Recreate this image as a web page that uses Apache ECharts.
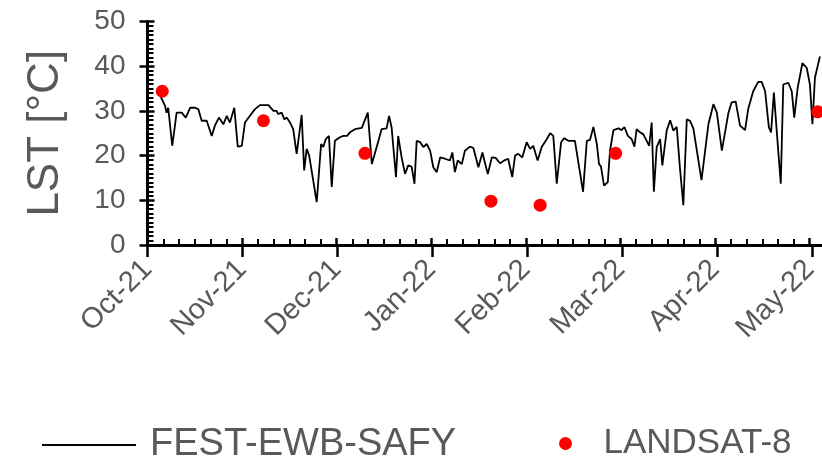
<!DOCTYPE html>
<html>
<head>
<meta charset="utf-8">
<script src="https://cdn.jsdelivr.net/npm/echarts@6/dist/echarts.min.js"></script>
<style>
  html, body { margin: 0; padding: 0; background: #fff; }
  #chart { width: 822px; height: 463px; }
</style>
</head>
<body>
<div id="chart"></div>
<script>
// Month tick labels, evenly spaced along the time axis
const monthLabels = ['Oct-21', 'Nov-21', 'Dec-21', 'Jan-22', 'Feb-22', 'Mar-22', 'Apr-22', 'May-22'];

// FEST-EWB-SAFY modelled LST: day offset from 1 Oct 2021, and temperature in °C
const modelDays = [
  3.4, 5.6, 6.1, 6.6, 7.9, 9.3, 10.9, 12.2, 13.6, 15.2, 16.2, 17.3, 18.9, 20.5, 21.5, 22.8,
  24.2, 25.3, 26.3, 27.7, 28.8, 30.1, 31.1, 32.7, 34.3, 35.9, 38.6, 40.2, 41.2, 41.7, 42.8,
  43.7, 44.4, 45.5, 46.5, 47.6, 49.2, 50.0, 50.8, 51.6, 54.0, 55.4, 56.1, 56.9, 57.9, 58.8,
  59.8, 61.4, 62.5, 63.7, 64.6, 66.2, 68.4, 70.3, 71.6, 72.1, 73.7, 74.7, 76.3, 77.1, 77.9,
  79.3, 80.0, 81.1, 82.2, 83.2, 84.3, 85.2, 85.9, 87.0, 88.0, 89.1, 90.2, 91.2, 92.3, 93.4,
  94.9, 96.5, 97.3, 98.1, 99.0, 100.3, 101.3, 102.9, 104.0, 105.6, 106.9, 107.5, 108.6,
  109.9, 111.1, 112.5, 114.1, 115.1, 116.4, 117.3, 118.3, 119.6, 121.0, 122.1, 123.1,
  124.5, 125.8, 127.1, 128.5, 129.5, 130.6, 132.0, 133.0, 134.3, 136.4, 139.0, 140.2,
  141.2, 142.3, 143.4, 144.1, 144.7, 145.7, 146.9, 147.6, 148.7, 150.3, 151.3, 152.2,
  153.3, 154.5, 155.4, 156.1, 157.2, 158.2, 159.3, 160.1, 160.9, 161.6, 162.5, 163.6,
  164.3, 165.7, 166.8, 167.8, 168.9, 169.9, 171.0, 172.1, 173.1, 174.2, 176.8, 179.0,
  180.6, 181.7, 183.3, 183.8, 185.4, 186.4, 187.7, 189.1, 190.7, 191.7, 193.3, 194.9,
  196.0, 197.1, 198.3, 199.0, 199.9, 200.8, 202.1, 202.9, 204.5, 205.6, 206.4, 207.5,
  209.0, 210.4, 211.4, 212.2, 213.0, 214.6
];
const modelLST = [
  34.4, 31.1, 29.6, 30.7, 22.2, 29.6, 29.6, 28.5, 30.7, 30.7, 30.4, 27.8, 27.8, 24.4, 26.7, 28.5,
  27.0, 28.9, 27.4, 30.7, 22.0, 22.2, 27.4, 28.9, 30.4, 31.3, 31.3, 30.0, 30.0, 29.3, 29.6,
  28.1, 28.5, 27.4, 25.9, 20.4, 29.1, 16.7, 21.5, 20.0, 9.6, 22.6, 21.9, 23.7, 24.4, 13.0,
  23.3, 24.1, 24.4, 24.4, 25.2, 25.9, 26.2, 29.6, 18.1, 17.8, 23.3, 25.9, 26.1, 28.9, 26.3,
  15.2, 24.4, 19.6, 15.9, 17.8, 17.5, 13.7, 23.3, 23.0, 21.9, 22.6, 21.1, 17.4, 16.3, 19.6,
  19.3, 18.9, 20.7, 16.3, 18.9, 18.1, 21.1, 22.0, 21.7, 17.4, 20.7, 18.9, 15.9,
  19.6, 19.5, 18.3, 19.0, 19.3, 15.2, 20.0, 20.4, 19.6, 23.0, 21.5, 22.2,
  18.9, 21.9, 23.3, 25.0, 24.4, 13.7, 23.0, 23.9, 23.3, 23.3, 11.9, 23.3,
  23.5, 26.4, 22.6, 18.1, 17.6, 13.3, 14.1, 21.1, 25.7, 26.1, 25.7, 26.4,
  24.4, 23.7, 22.0, 25.9, 25.2, 24.8, 23.3, 22.2, 27.4, 11.9, 21.9, 23.7,
  17.8, 25.6, 27.9, 25.6, 26.4, 17.4, 8.9, 28.1, 27.8, 26.1, 14.5, 27.0,
  31.5, 29.6, 21.1, 20.8, 29.6, 31.9, 32.1, 26.7, 25.7, 30.4, 34.4, 36.5,
  36.5, 34.4, 26.3, 25.2, 34.1, 25.6, 13.7, 35.9, 36.3, 34.4, 28.5, 35.2,
  40.7, 39.6, 35.9, 27.0, 37.4, 42.2
];

// LANDSAT-8 LST overpasses: day offset from 1 Oct 2021, and temperature in °C
const landsatDays = [4.7, 37.0, 69.4, 109.6, 125.3, 149.4, 213.9];
const landsatLST = [34.4, 27.8, 20.5, 9.8, 8.9, 20.5, 29.8];

// Y axis ticks
const yMin = 0, yMax = 50, yStep = 10;

const DAYS_PER_TICK = 212 / 7;            // monthly ticks drawn at equal spacing
const X_MAX = 212;                        // May-22
const FONT = '"Liberation Sans", Arial, sans-serif';
const TEXT = '#595959';
const CHART_W = 822;

const modelData = modelDays.map((d, i) => [d, modelLST[i]]);
const landsatData = landsatDays.map((d, i) => [d, landsatLST[i]]);

// tick area ends at May-22; the data area keeps running to the right edge of the figure
const tickRect = { left: 147.5, top: 21.5, width: 664.3, height: 223.5 };
const dataRect = { left: 147.5, top: 21.5, width: CHART_W - 147.5, height: 223.5 };
const X_VIEW_MAX = X_MAX * dataRect.width / tickRect.width;

const hidden = { show: false };

const chart = echarts.init(document.getElementById('chart'), null, { renderer: 'canvas' });
chart.setOption({
  animation: false,
  backgroundColor: '#fff',
  textStyle: { fontFamily: FONT },
  grid: [
    Object.assign({}, tickRect),
    Object.assign({}, tickRect),
    Object.assign({}, dataRect)
  ],
  legend: [
    {
      left: 37, top: 421,
      data: [{ name: 'FEST-EWB-SAFY', icon: 'rect' }],
      itemWidth: 94, itemHeight: 1.8,
      textStyle: { fontSize: 38, color: TEXT, fontFamily: FONT, padding: [0, 0, 0, 9] }
    },
    {
      left: 554, top: 421,
      data: [{ name: 'LANDSAT-8', icon: 'circle' }],
      itemWidth: 38, itemHeight: 13,
      textStyle: { fontSize: 35, color: TEXT, fontFamily: FONT, padding: [0, 0, 0, 14] }
    }
  ],
  xAxis: [
    {
      // month axis: inward major and minor ticks, rotated labels
      type: 'value', gridIndex: 0,
      min: 0, max: X_MAX, interval: DAYS_PER_TICK,
      axisLine: { show: false, onZero: false },
      axisTick: { show: true, inside: true, length: 7, lineStyle: { color: '#000', width: 2.5 } },
      minorTick: { show: true, splitNumber: 6, length: 6, lineStyle: { color: '#000', width: 2 } },
      splitLine: hidden,
      axisLabel: {
        rotate: 45, margin: 20, fontSize: 29, color: TEXT, fontFamily: FONT,
        formatter: v => monthLabels[Math.round(v / DAYS_PER_TICK)] || ''
      }
    },
    {
      // outward halves of the major ticks
      type: 'value', gridIndex: 1,
      min: 0, max: X_MAX, interval: DAYS_PER_TICK,
      axisLine: { show: false, onZero: false },
      axisTick: { show: true, inside: false, length: 12, lineStyle: { color: '#000', width: 2.5 } },
      splitLine: hidden,
      axisLabel: hidden
    },
    {
      // data axis with the bottom axis line
      type: 'value', gridIndex: 2,
      min: 0, max: X_VIEW_MAX,
      axisLine: { show: true, onZero: false, lineStyle: { color: '#000', width: 3 } },
      axisTick: hidden, splitLine: hidden, axisLabel: hidden
    }
  ],
  yAxis: [
    {
      type: 'value', gridIndex: 0,
      min: yMin, max: yMax, interval: yStep,
      name: 'LST [°C]', nameLocation: 'middle', nameGap: 80,
      nameTextStyle: { fontSize: 44, color: TEXT, fontFamily: FONT },
      axisLine: { show: true, onZero: false, lineStyle: { color: '#000', width: 3 } },
      axisTick: { show: true, inside: true, length: 7, lineStyle: { color: '#000', width: 2.5 } },
      minorTick: { show: true, splitNumber: 10, length: 6, lineStyle: { color: '#000', width: 2 } },
      splitLine: hidden,
      axisLabel: { margin: 22, fontSize: 28, color: TEXT, fontFamily: FONT }
    },
    {
      type: 'value', gridIndex: 1,
      min: yMin, max: yMax, interval: yStep,
      axisLine: { show: false, onZero: false },
      axisTick: { show: true, inside: false, length: 8, lineStyle: { color: '#000', width: 2.5 } },
      splitLine: hidden,
      axisLabel: hidden
    },
    {
      type: 'value', gridIndex: 2,
      min: yMin, max: yMax,
      axisLine: hidden, axisTick: hidden, splitLine: hidden, axisLabel: hidden
    }
  ],
  series: [
    {
      name: 'FEST-EWB-SAFY',
      type: 'line',
      xAxisIndex: 2, yAxisIndex: 2,
      data: modelData,
      symbol: 'none',
      lineStyle: { color: '#000', width: 1.8 },
      itemStyle: { color: '#000' },
      z: 3
    },
    {
      name: 'LANDSAT-8',
      type: 'scatter',
      xAxisIndex: 2, yAxisIndex: 2,
      data: landsatData,
      symbol: 'circle',
      symbolSize: 13,
      clip: false,
      itemStyle: { color: '#ff0000', opacity: 1 },
      z: 4
    }
  ]
});
</script>
</body>
</html>
